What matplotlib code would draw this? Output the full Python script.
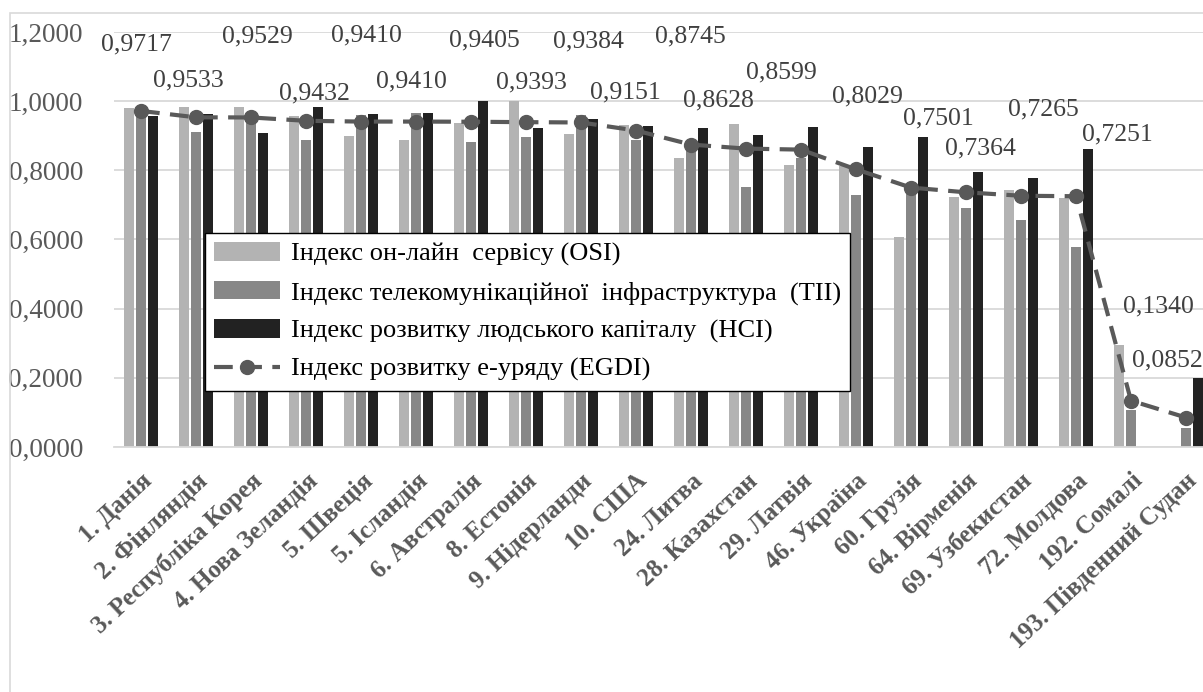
import numpy as np
import matplotlib
matplotlib.use("Agg")
import matplotlib.pyplot as plt
from matplotlib.patches import Rectangle
from matplotlib.ticker import FuncFormatter

plt.rcParams["font.family"] = ["Liberation Serif", "DejaVu Serif"]

# Data
countries = ["1. Данія", "2. Фінляндія", "3. Республіка Корея", "4. Нова Зеландія",
             "5. Швеція", "5. Ісландія", "6. Австралія", "8. Естонія",
             "9. Нідерланди", "10. США", "24. Литва", "28. Казахстан",
             "29. Латвія", "46. Україна", "60. Грузія", "64. Вірменія",
             "69. Узбекистан", "72. Молдова", "192. Сомалі", "193. Південний Судан"]
osi = [0.979, 0.983, 0.983, 0.958, 0.898, 0.887, 0.938, 1.000, 0.906, 0.930,
       0.835, 0.935, 0.815, 0.812, 0.607, 0.724, 0.743, 0.719, 0.295, 0.0]
tii = [0.980, 0.912, 0.967, 0.889, 0.961, 0.966, 0.883, 0.895, 0.961, 0.887,
       0.874, 0.753, 0.835, 0.729, 0.753, 0.692, 0.656, 0.579, 0.107, 0.054]
hci = [0.956, 0.964, 0.909, 0.982, 0.964, 0.966, 1.000, 0.923, 0.948, 0.928,
       0.922, 0.901, 0.926, 0.868, 0.896, 0.796, 0.779, 0.861, 0.0, 0.200]
egdi = [0.9717, 0.9533, 0.9529, 0.9432, 0.9410, 0.9410, 0.9405, 0.9393,
        0.9384, 0.9151, 0.8745, 0.8628, 0.8599, 0.8029, 0.7501, 0.7364,
        0.7265, 0.7251, 0.1340, 0.0852]
series_names = ["Індекс он-лайн  сервісу (OSI)",
                "Індекс телекомунікаційної  інфраструктура  (TII)",
                "Індекс розвитку людського капіталу  (HCI)",
                "Індекс розвитку е-уряду (EGDI)"]

# label placement (excel put them wherever it liked)
label_dx = [-0.09, -0.13, 0.11, 0.16, 0.09, -0.09, 0.24, 0.09, 0.13, -0.20,
            -0.02, -0.51, -0.36, 0.20, 0.49, 0.27, 0.40, 0.76, 0.49, -0.33]
label_y = [1.165, 1.061, 1.186, 1.021, 1.189, 1.056, 1.177, 1.053, 1.174, 1.024,
           1.186, 1.001, 1.084, 1.015, 0.949, 0.862, 0.975, 0.905, 0.405, 0.249]

W, H = 1203, 692
fig = plt.figure(figsize=(W / 100, H / 100), dpi=100)
ax = fig.add_axes([113.5 / W, (H - 447) / H, 1100 / W, 415 / H])

x = np.arange(len(countries))
bw = 0.175
step = 0.214
b1 = ax.bar(x - step, osi, bw, color="#b3b3b3", zorder=2)
b2 = ax.bar(x, tii, bw, color="#878787", zorder=2)
b3 = ax.bar(x + step, hci, bw, color="#222222", zorder=2)
ln, = ax.plot(x, egdi, color="#595959", lw=3, ls=(0, (4.5, 2.5)), marker="o",
              ms=10, zorder=3)

for i, v in enumerate(egdi):
    ax.text(i + label_dx[i], label_y[i], f"{v:.4f}".replace(".", ","),
            ha="center", va="center", fontsize=18.5, color="#404040", zorder=4)

ax.set_xlim(-0.5, len(countries) - 0.5)
ax.set_ylim(0, 1.2)
ax.set_yticks(np.arange(0, 1.21, 0.2))
ax.yaxis.set_major_formatter(FuncFormatter(lambda v, p: f"{v:.4f}".replace(".", ",")))
ax.tick_params(axis="y", length=0, labelsize=19.5, labelcolor="#595959", pad=22)
ax.set_xticks(x)
ax.set_xticklabels(countries, rotation=43, ha="right", va="top",
                   rotation_mode="anchor", fontsize=18, fontweight="bold",
                   color="#595959")
ax.tick_params(axis="x", length=0, pad=16)
ax.yaxis.grid(True, color="#d9d9d9", lw=1.3)
ax.set_axisbelow(True)
for s in ["top", "right", "left"]:
    ax.spines[s].set_visible(False)
ax.spines["bottom"].set_color("#d9d9d9")
ax.spines["bottom"].set_linewidth(1.3)

leg = ax.legend([b1, b2, b3, ln], series_names, loc="upper left",
                bbox_to_anchor=(205 / W, 1 - 233 / H),
                bbox_transform=fig.transFigure, fontsize=19, frameon=True,
                fancybox=False, edgecolor="#000000", framealpha=1,
                handlelength=2.5, handletextpad=0.4, labelspacing=0.55,
                borderpad=0.35, borderaxespad=0)
leg.get_frame().set_linewidth(1.0)
leg.set_zorder(5)

# outer chart frame
fig.add_artist(Rectangle((10 / W, -0.1), 1.2, 1 - 13 / H + 0.1,
                         transform=fig.transFigure, fill=False,
                         ec="#d9d9d9", lw=1.2))

plt.savefig("out.png", dpi=100)
